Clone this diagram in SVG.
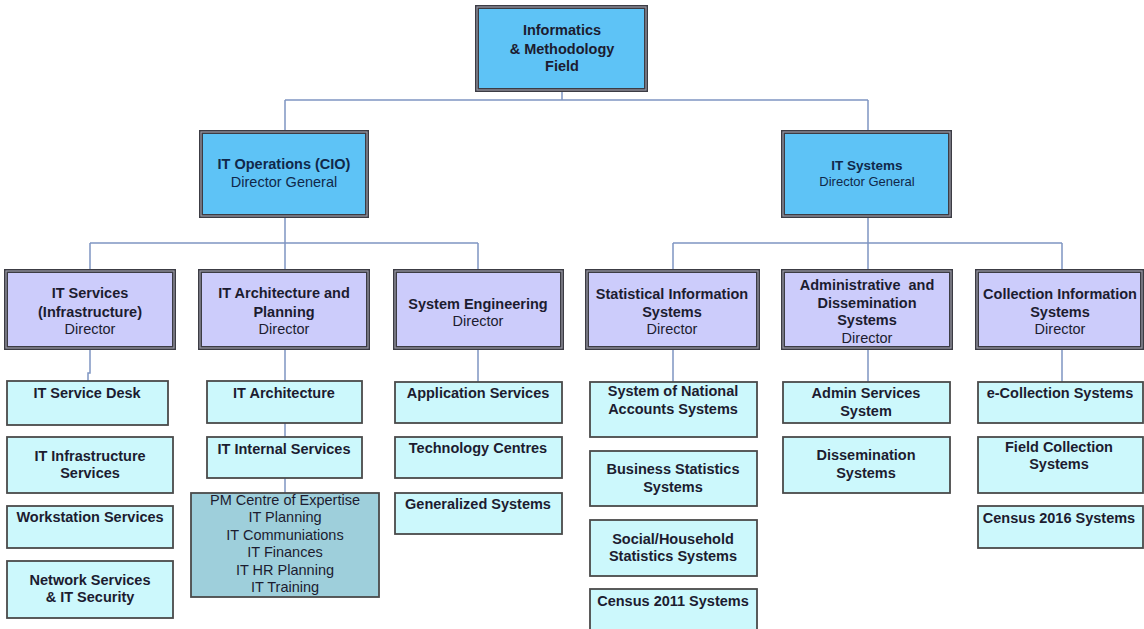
<svg xmlns="http://www.w3.org/2000/svg" width="1144" height="629" viewBox="0 0 1144 629">
<style>
text{font-family:"Liberation Sans",Arial,sans-serif;text-anchor:middle;fill:#1c1c30}
.b{font-weight:bold;font-size:14.5px}
.r{font-size:14.5px}
.top{fill:#5ec3f6}
.l3{fill:#ccccfb}
.frame{fill:none;stroke:#3c3c44;stroke-width:4}
.frin{fill:none;stroke:#9a9aa6;stroke-width:1.2}
.leaf{fill:#ccf8fc;stroke:#4a4a4a;stroke-width:1.8}
.pm{fill:#9ecfdb;stroke:#4a4a4a;stroke-width:1.8}
.con{fill:none;stroke:#7f95c2;stroke-width:1.5}
.dg{fill:#10284a}
</style>
<rect width="1144" height="629" fill="#ffffff"/>
<g id="connectors" class="con">
<path d="M562 90V100M285 100H868M285 100V132M868 100V132"/>
<path d="M285 216V243M90 243H478M90 243V271M285 243V271M478 243V271"/>
<path d="M868 216V243M673 243H1062M673 243V271M868 243V271M1062 243V271"/>
<path d="M90 348V373H88V381"/>
<path d="M285 348V381M285 423V437M285 478V493"/>
<path d="M478 348V382M673 348V382M868 348V382M1062 348V382"/>
</g>
<g id="n-informatics">
<rect class="top" x="477" y="7" width="169" height="83"/>
<rect class="frame" x="477" y="7" width="169" height="83"/>
<rect class="frin" x="477" y="7" width="169" height="83"/>
<text class="b"><tspan x="562" y="35">Informatics</tspan><tspan x="562" y="54">&amp; Methodology</tspan><tspan x="562" y="71">Field</tspan></text>
</g>
<g id="n-itops">
<rect class="top" x="201" y="132" width="166" height="84"/>
<rect class="frame" x="201" y="132" width="166" height="84"/>
<rect class="frin" x="201" y="132" width="166" height="84"/>
<text class="b dg" x="284" y="169">IT Operations (CIO)</text>
<text class="r dg" x="284" y="187">Director General</text>
</g>
<g id="n-itsys">
<rect class="top" x="783" y="132" width="167" height="84"/>
<rect class="frame" x="783" y="132" width="167" height="84"/>
<rect class="frin" x="783" y="132" width="167" height="84"/>
<text class="b dg" x="867" y="170" style="font-size:13.5px">IT Systems</text>
<text class="dg" x="867" y="186" style="font-size:13px">Director General</text>
</g>
<g id="n-itservices">
<rect class="l3" x="6" y="271" width="168" height="77"/>
<rect class="frame" x="6" y="271" width="168" height="77"/>
<rect class="frin" x="6" y="271" width="168" height="77"/>
<text class="b"><tspan x="90" y="298">IT Services</tspan><tspan x="90" y="317">(Infrastructure)</tspan></text>
<text class="r" x="90" y="334">Director</text>
</g>
<g id="n-itarch">
<rect class="l3" x="200" y="271" width="168" height="77"/>
<rect class="frame" x="200" y="271" width="168" height="77"/>
<rect class="frin" x="200" y="271" width="168" height="77"/>
<text class="b"><tspan x="284" y="298">IT Architecture and</tspan><tspan x="284" y="317">Planning</tspan></text>
<text class="r" x="284" y="334">Director</text>
</g>
<g id="n-syseng">
<rect class="l3" x="395" y="271" width="167" height="77"/>
<rect class="frame" x="395" y="271" width="167" height="77"/>
<rect class="frin" x="395" y="271" width="167" height="77"/>
<text class="b" x="478" y="309">System Engineering</text>
<text class="r" x="478" y="326">Director</text>
</g>
<g id="n-statinfo">
<rect class="l3" x="587" y="271" width="171" height="77"/>
<rect class="frame" x="587" y="271" width="171" height="77"/>
<rect class="frin" x="587" y="271" width="171" height="77"/>
<text class="b"><tspan x="672" y="299">Statistical Information</tspan><tspan x="672" y="317">Systems</tspan></text>
<text class="r" x="672" y="334">Director</text>
</g>
<g id="n-admin">
<rect class="l3" x="783" y="271" width="168" height="77"/>
<rect class="frame" x="783" y="271" width="168" height="77"/>
<rect class="frin" x="783" y="271" width="168" height="77"/>
<text class="b"><tspan x="867" y="290">Administrative&#160; and</tspan><tspan x="867" y="308">Dissemination</tspan><tspan x="867" y="325">Systems</tspan></text>
<text class="r" x="867" y="343">Director</text>
</g>
<g id="n-collection">
<rect class="l3" x="977" y="271" width="165" height="77"/>
<rect class="frame" x="977" y="271" width="165" height="77"/>
<rect class="frin" x="977" y="271" width="165" height="77"/>
<text class="b"><tspan x="1060" y="299">Collection Information</tspan><tspan x="1060" y="317">Systems</tspan></text>
<text class="r" x="1060" y="334">Director</text>
</g>
<g id="n-servicedesk"><rect class="leaf" x="7" y="381" width="161" height="44"/><text class="b" x="87" y="398">IT Service Desk</text></g>
<g id="n-infra"><rect class="leaf" x="7" y="437" width="166" height="56"/><text class="b"><tspan x="90" y="461">IT Infrastructure</tspan><tspan x="90" y="478">Services</tspan></text></g>
<g id="n-workstation"><rect class="leaf" x="7" y="506" width="166" height="42"/><text class="b" x="90" y="522">Workstation Services</text></g>
<g id="n-network"><rect class="leaf" x="7" y="561" width="166" height="57"/><text class="b"><tspan x="90" y="585">Network Services</tspan><tspan x="90" y="602">&amp; IT Security</tspan></text></g>
<g id="n-itarchitecture"><rect class="leaf" x="207" y="381" width="155" height="42"/><text class="b" x="284" y="398">IT Architecture</text></g>
<g id="n-internal"><rect class="leaf" x="207" y="437" width="155" height="41"/><text class="b" x="284" y="454">IT Internal Services</text></g>
<g id="n-pm"><rect class="pm" x="191" y="493" width="188" height="104"/><text class="r"><tspan x="285" y="505">PM Centre of Expertise</tspan><tspan x="285" y="522">IT Planning</tspan><tspan x="285" y="540">IT Communiations</tspan><tspan x="285" y="557">IT Finances</tspan><tspan x="285" y="575">IT HR Planning</tspan><tspan x="285" y="592">IT Training</tspan></text></g>
<g id="n-appserv"><rect class="leaf" x="395" y="382" width="167" height="41"/><text class="b" x="478" y="398">Application Services</text></g>
<g id="n-techcentres"><rect class="leaf" x="395" y="437" width="167" height="41"/><text class="b" x="478" y="453">Technology Centres</text></g>
<g id="n-generalized"><rect class="leaf" x="395" y="493" width="167" height="41"/><text class="b" x="478" y="509">Generalized Systems</text></g>
<g id="n-sna"><rect class="leaf" x="590" y="382" width="167" height="55"/><text class="b"><tspan x="673" y="396">System of National</tspan><tspan x="673" y="414">Accounts Systems</tspan></text></g>
<g id="n-business"><rect class="leaf" x="590" y="451" width="167" height="55"/><text class="b"><tspan x="673" y="474">Business Statistics</tspan><tspan x="673" y="492">Systems</tspan></text></g>
<g id="n-social"><rect class="leaf" x="590" y="520" width="167" height="56"/><text class="b"><tspan x="673" y="544">Social/Household</tspan><tspan x="673" y="561">Statistics Systems</tspan></text></g>
<g id="n-census2011"><rect class="leaf" x="590" y="589" width="167" height="45"/><text class="b" x="673" y="606">Census 2011 Systems</text></g>
<g id="n-adminserv"><rect class="leaf" x="783" y="382" width="167" height="41"/><text class="b"><tspan x="866" y="398">Admin Services</tspan><tspan x="866" y="416">System</tspan></text></g>
<g id="n-dissem"><rect class="leaf" x="783" y="437" width="167" height="56"/><text class="b"><tspan x="866" y="460">Dissemination</tspan><tspan x="866" y="478">Systems</tspan></text></g>
<g id="n-ecollect"><rect class="leaf" x="978" y="382" width="165" height="41"/><text class="b" x="1060" y="398">e-Collection Systems</text></g>
<g id="n-field"><rect class="leaf" x="978" y="437" width="165" height="56"/><text class="b"><tspan x="1059" y="452">Field Collection</tspan><tspan x="1059" y="469">Systems</tspan></text></g>
<g id="n-census2016"><rect class="leaf" x="978" y="506" width="165" height="42"/><text class="b" x="1059" y="523">Census 2016 Systems</text></g>
</svg>
